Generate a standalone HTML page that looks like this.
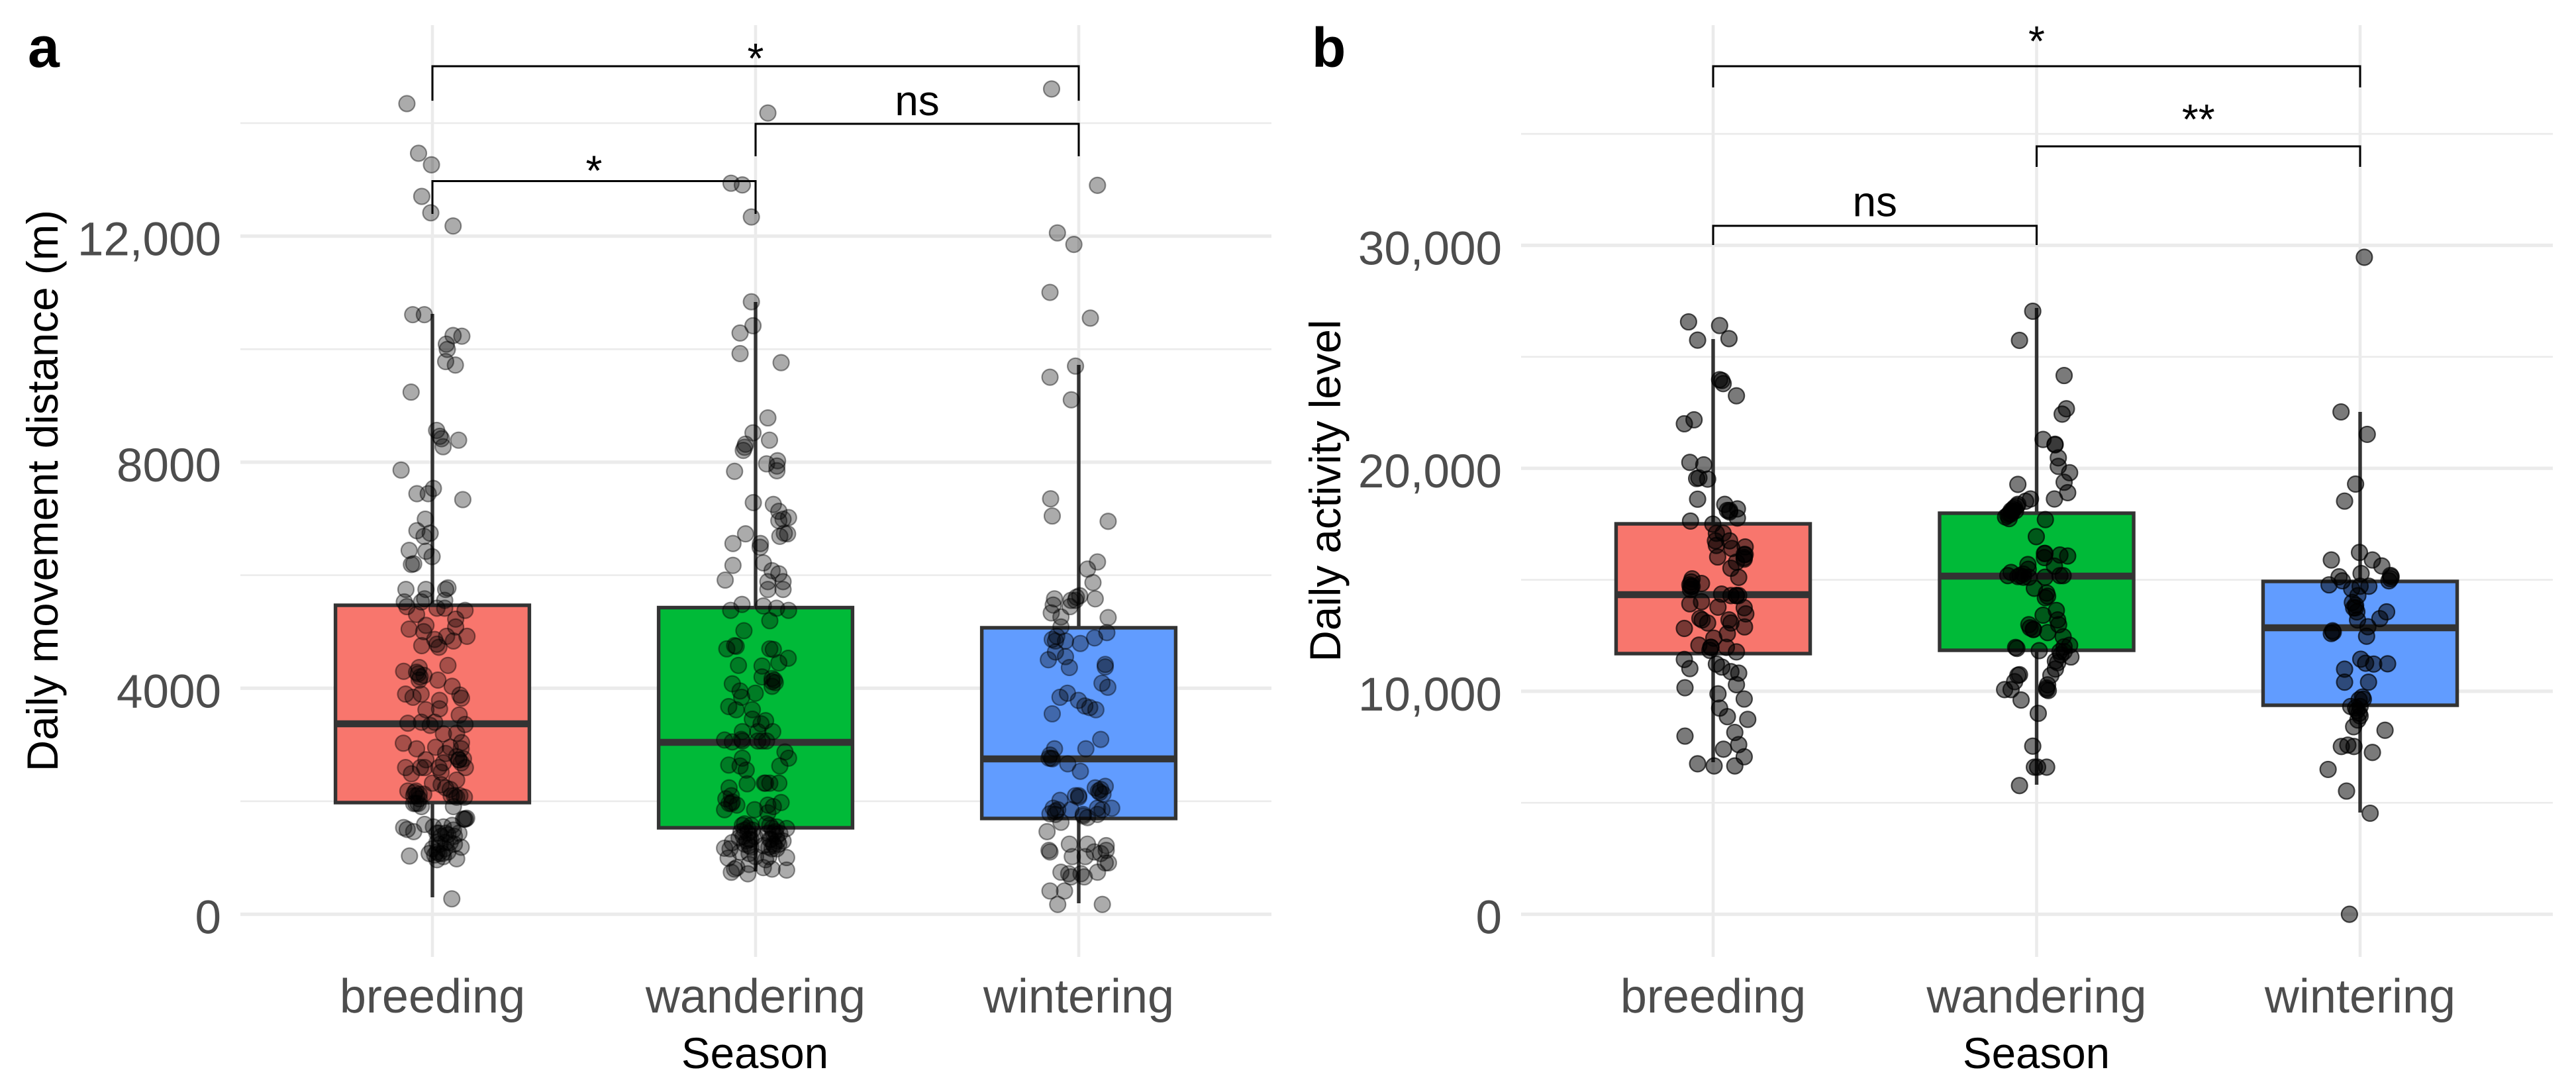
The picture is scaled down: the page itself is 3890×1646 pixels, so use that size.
<!DOCTYPE html>
<html lang="en">
<head>
<meta charset="utf-8">
<title>Daily movement distance and activity level by season</title>
<style>
html,body{margin:0;padding:0;background:#fff;}
svg{display:block;font-family:"Liberation Sans",Arial,sans-serif;}
</style>
</head>
<body>
<svg id="chart" xmlns="http://www.w3.org/2000/svg" width="3890" height="1646" viewBox="0 0 3890 1646">
  <rect x="0" y="0" width="3890" height="1646" fill="#fff"/>
  <text x="42" y="101" font-size="86" font-weight="700" fill="#000">a</text>
  <text x="1981" y="101" font-size="84" font-weight="700" fill="#000">b</text>
  <text transform="translate(87,741) rotate(-90)" text-anchor="middle" font-size="65.5" fill="#000">Daily movement distance (m)</text>
  <text transform="translate(2024,741) rotate(-90)" text-anchor="middle" font-size="65.5" fill="#000">Daily activity level</text>
  <text x="1140" y="1613" text-anchor="middle" font-size="65.5" fill="#000">Season</text>
  <text x="3075" y="1613" text-anchor="middle" font-size="65.5" fill="#000">Season</text>
  <g id="panel-a"></g>
  <g id="panel-b"></g>
</svg>
<script>
const seasons = ['breeding', 'wandering', 'wintering'];
const fillColors = ['#F8766D', '#00BA38', '#619CFF'];

const aMajorTicks = [0, 4000, 8000, 12000];
const aTickLabels = ['0', '4000', '8000', '12,000'];
const aMinorTicks = [2000, 6000, 10000, 14000];
const aQ1 = [1976, 1530, 1695];
const aMedian = [3370, 3042, 2749];
const aQ3 = [5468, 5427, 5070];
const aWhiskerLow = [300, 757, 195];
const aWhiskerHigh = [10625, 10835, 9722];
const aBracketFrom = [0, 1, 0];
const aBracketTo = [2, 2, 1];
const aBracketLevel = [15007, 13988, 12974];
const aBracketTip = [14397, 13414, 12394];
const aBracketLabels = ['*', 'ns', '*'];
const aBracketLabelOffset = [10, -13, 6];

const bMajorTicks = [0, 10000, 20000, 30000];
const bTickLabels = ['0', '10,000', '20,000', '30,000'];
const bMinorTicks = [5000, 15000, 25000, 35000];
const bQ1 = [11690, 11838, 9373];
const bMedian = [14333, 15164, 12848];
const bQ3 = [17510, 17987, 14927];
const bWhiskerLow = [6819, 5809, 4562];
const bWhiskerHigh = [25797, 27193, 22530];
const bBracketFrom = [0, 1, 0];
const bBracketTo = [2, 2, 1];
const bBracketLevel = [38034, 34441, 30877];
const bBracketTip = [37084, 33520, 30016];
const bBracketLabels = ['*', '**', 'ns'];
const bBracketLabelOffset = [-16, -19, -14.5];

/* each point: [horizontal jitter in category units, observed value] */
const aBreedingPoints = [[-.079,14346],[-.043,13467],[-.003,13263],[-.033,12704],[-.005,12414],[.064,12180],[-.061,10611],[-.025,10611],[.091,10230],[.064,10242],[.043,10089],[.046,9996],[.041,9781],[.071,9719],[-.066,9240],[.013,8563],[.023,8458],[.028,8415],[.081,8390],[.033,8274],[-.097,7861],[-.048,7443],[.003,7535],[-.013,7443],[.094,7338],
[-.022,6992],[-.048,6788],[-.007,6744],[-.026,6688],[-.072,6439],[-.020,6423],[-.001,6329],[-.058,6202],[-.065,6190],[-.082,5748],[-.020,5748],[.048,5776],[.041,5748],[-.087,5527],[-.024,5582],[-.034,5527],[.038,5555],
[-.079,5444],[-.049,5306],[.014,5416],[.038,5416],[.101,5378],[.072,5223],[.072,5084],[-.072,5046],[-.020,5112],[-.027,5001],[.107,4919],[.044,4919],[.007,4863],[.065,4836],[-.033,4753],[.014,4780],[.020,4725],[.048,4404],[-.089,4299],[-.041,4366],[-.049,4283],[-.026,4227],[-.041,4144],[.017,4144],[.061,4034],[.085,3879],[.090,3824],[-.083,3896],[-.060,3840],[-.035,3896],[.022,3785],[.022,3636],[-.020,3619],[.083,3525],[-.034,3398],[-.076,3381],[.007,3398],[-.007,3343],[.101,3359],[.034,3193],[.075,3204],[-.090,3027],[-.049,2928],[.010,2955],[.055,2955],[.090,3038],[.089,2928],[.041,2845],[-.020,2734],[.082,2734],[.096,2751],[-.083,2596],[-.037,2596],[-.024,2596],[.020,2596],[.034,2679],[.102,2596],[-.065,2486],[.027,2513],[.075,2375],[0,2320],[.027,2292],[.041,2237],[-.076,2181],[-.051,2181],[-.041,2126],[-.058,2098],[-.027,2126],[.058,2098],[.075,2071],[.099,2071],
[-.051,1960],[.065,1905],[.099,1684],[.102,1684],[-.024,1590],[-.089,1534],[-.078,1501],[-.058,1462],[.003,1545],[.034,1545],[.061,1573],[.020,1435],[.048,1407],[.068,1380],[.014,1269],[.041,1269],[.068,1241],[.089,1186],[-.010,1075],[.020,1075],[.034,1020],[.007,1048],[.075,981],[-.071,1031],[.014,965],[.060,273],
[-.048,2098],[-.055,2154],[-.041,2043],[-.044,1960],[-.058,1960],[-.034,1905],[.014,1435],[.027,1380],[.041,1435],[.024,1241],[.038,1158],[.055,1269],[.014,1103],[.031,1075],[.048,1103],[0,1158],[.065,1490],[.082,1435],[.096,1684],[.106,1700],[.068,2098],[.085,2098],[.055,2209],[-.038,4200],[-.044,4255],[.082,2734],[.075,2790],[.089,2679]];

const aWanderingPoints = [[.038,14180],[-.076,12937],[-.041,12907],[-.013,12340],[-.013,10839],[-.008,10415],[-.048,10286],[-.048,9922],[.079,9762],[.038,8784],[-.008,8520],[.043,8390],[-.031,8319],[-.034,8264],[-.038,8209],[.034,7971],[.068,8026],[.066,7932],[.066,7849],[-.065,7838],[-.007,7285],[.055,7252],[.072,7131],[.072,6965],[.102,7020],[.085,6992],[.089,6743],[.075,6688],[.099,6732],[-.031,6732],[-.070,6561],[.015,6561],[.014,6495],[.024,6218],[-.070,6174],[.051,6080],[.072,6025],[-.094,5914],[.038,5886],[.085,5886],[.038,5748],[.085,5748],
[-.042,5483],[.024,5455],[-.077,5378],[.065,5416],[.102,5378],[.044,5195],[-.036,5018],[-.089,4697],[-.065,4753],[-.060,4742],[.044,4697],[.055,4686],[.101,4531],[-.053,4404],[.020,4393],[.072,4449],[.051,4172],[.020,4200],[.061,4100],[.051,4034],[-.072,4078],[-.048,3951],[-.043,3840],[-.001,3912],[-.083,3675],[-.060,3619],[-.010,3619],[-.010,3453],[.031,3426],[.017,3370],[.053,3232],[-.041,3232],[.007,3232],[-.096,3083],[-.072,3050],[-.041,3066],[.007,3066],[.034,3066],[.091,2872],[.102,2762],[-.041,2762],[-.083,2640],[-.048,2624],[-.029,2552],[.075,2624],[-.026,2309],[.027,2320],[.044,2320],[.072,2320],[-.082,2237],[-.075,2098],[-.092,2043],[-.075,1960],[-.058,1932],[-.096,1850],[-.003,1850],[.038,1932],[.079,1977],[.055,1905],[.038,1795],
[-.041,1573],[-.014,1573],[.044,1573],[.065,1545],[.096,1518],[-.045,1462],[-.024,1435],[.055,1435],[.075,1435],[-.051,1352],[-.020,1324],[.048,1324],[.068,1297],[.085,1297],[-.072,1269],[-.034,1241],[.058,1214],[-.096,1169],[-.014,1186],[.065,1158],[.024,1214],[-.079,1158],[-.048,1103],[-.020,1075],[.041,1020],[-.085,993],[.096,1003],[0,1020],[.031,965],[-.020,882],[-.058,826],[-.075,743],[-.024,716],[.024,826],[.051,799],[.096,782],[-.065,799],
[-.034,1600],[-.024,1518],[-.010,1490],[-.038,1379],[-.027,1297],[-.014,1324],[-.034,1490],[-.020,1214],[-.003,1379],[.034,1600],[.051,1518],[.061,1462],[.038,1435],[.044,1324],[.065,1380],[.055,1241],[.041,1186],[.072,1241],[.051,1158],[-.082,1960],[-.072,1988],[-.044,3094],[.020,3066],[.031,2320],[.051,4117],[.058,4144]];

const aWinteringPoints = [[-.084,14605],[.058,12900],[-.066,12058],[-.015,11854],[-.089,11005],[.036,10550],[-.010,9701],[-.089,9504],[-.023,9104],[-.087,7352],[-.082,7048],[.091,6954],[.058,6235],[.027,6108],[.044,5870],[-.075,5582],[-.079,5472],[-.007,5610],[.003,5637],[-.024,5555],[-.010,5555],[.051,5582],[-.027,5444],[-.085,5333],[-.055,5261],[.091,5250],[-.055,5084],[-.082,4863],[-.068,4919],[-.072,4836],[-.041,4836],[.005,4792],[.049,4891],[.087,4985],[-.072,4642],[-.094,4504],[-.041,4559],[-.029,4366],[.082,4421],[.082,4377],[.072,4089],[.090,4017],[-.058,3840],[-.035,3912],[-.001,3785],[.019,3685],[.034,3658],[.053,3619],[-.082,3547],[.068,3094],[.022,2928],[-.075,2928],[-.092,2762],[-.082,2751],[-.034,2662],[.005,2530],[.082,2264],[.051,2237],[.065,2154],[0,2071],[-.010,2098],[-.058,2015],[.075,2126],[.061,2181],[.102,1877],[.072,1850],[.058,1877],[-.065,1850],[-.089,1778],[-.072,1767],[-.024,1850],[.014,1739],[.058,1767],[-.055,1628],[.027,1711],[-.098,1462],[-.029,1241],[.027,1241],[.085,1214],[-.089,1103],[-.092,1131],[.048,1103],[.068,1075],[.085,1131],[-.020,1020],[.020,1020],[.082,909],[.092,909],[-.055,744],[-.031,717],[.007,717],[.058,744],[-.024,661],[.017,661],[-.089,412],[-.044,412],[-.065,174],[.073,174],
[-.085,2762],[-.089,2817],[-.072,1822],[-.079,1877],[.014,1767],[.068,2209],[0,2098]];

const bBreedingPoints = [[-.076,26568],[.020,26404],[-.048,25749],[.049,25817],[.020,23976],[.027,23935],[.031,23799],[.072,23253],[-.059,22176],[-.089,21998],[-.072,20266],[-.029,20157],[-.044,19570],[-.051,19543],[-.017,19516],[-.048,18615],[.036,18384],[.075,18179],[.044,18111],[.051,18043],[.075,17770],[-.070,17633],[-.001,17497],[.010,17088],[.031,17088],[.007,16747],[.051,16747],[.099,16474],[.010,16542],[.058,16406],[.099,16133],[.014,16024],[.096,15928],[.072,15792],[.055,15519],[.079,15110],[-.065,15042],[-.036,14837],[-.068,14701],[-.070,14565],[.026,14360],[.072,14292],[.055,14292],[.079,14292],[-.072,13923],[-.036,14019],[.015,13773],[.096,13746],[.101,13473],[-.041,13269],[-.034,13200],[.049,13200],[-.017,13064],[.055,13064],[.097,12887],[-.089,12819],[.044,12586],[.002,12382],[-.044,12068],[-.007,11972],[.041,11972],[.072,11768],[-.010,11836],[-.089,11427],[-.072,11018],[.010,11223],[.027,11087],[.055,10881],[.079,10813],[.072,10295],[.015,9886],[-.087,10159],[.096,9654],[.020,9245],[.044,8863],[.107,8740],[-.087,7990],[.067,8154],[.079,7608],[.032,7403],[.096,7063],[-.048,6749],[.003,6653],[.067,6653],
[-.068,14905],[-.065,14701],[-.072,14769],[.096,16133],[.096,15997],[-.007,11972],[.051,18111],[.072,14292]];

const bWanderingPoints = [[-.012,27045],[-.053,25739],[.085,24162],[.092,22671],[.079,22430],[.020,21294],[.057,21081],[.057,21053],[.067,20470],[.067,20087],[.102,19803],[.085,19377],[-.058,19278],[.096,18908],[-.019,18624],[.055,18624],[-.034,18525],[-.058,18383],[-.068,18241],[-.075,18071],[-.089,17886],[-.079,17957],[-.065,18099],[-.085,17744],[.027,17701],[-.001,16935],[.026,16182],[.024,15997],[.072,16111],[.096,16068],[-.027,15685],[.055,15614],[-.079,15330],[-.026,15472],[-.089,15188],[-.058,15145],[-.041,15117],[-.024,15117],[.026,15117],[.072,15188],[.082,15188],[-.007,14620],[.031,14407],[.034,14265],[.027,14195],[.061,13626],[.020,13413],[.065,13200],[.068,12987],[-.024,12987],[-.010,12774],[.034,12632],[.082,12447],[-.065,11965],[-.061,11923],[.008,11823],[.102,12064],[.085,11780],[.106,11539],[.075,11638],[.065,11283],[.058,10999],[.044,10715],[-.058,10715],[-.053,10743],[.034,10289],[-.068,10431],[-.099,10076],[.031,10147],[.036,10033],[-.079,10076],[-.048,9607],[.005,9011],[-.012,7540],[-.007,6597],[.003,6597],[.031,6597],[-.053,5773],
[-.079,18099],[-.072,18170],[-.085,17957],[-.096,17815],[-.061,18312],[-.041,15259],[-.051,15188],[-.010,12774],[-.020,12845],[.024,16182],[.085,11993],[.072,11780],[.058,11354],[.031,10076]];

const bWinteringPoints = [[.013,29465],[-.059,22529],[.022,21523],[-.014,19293],[-.048,18530],[-.002,16227],[-.089,15888],[.038,15888],[.067,15621],[-.065,15136],[.003,15282],[.096,15136],[-.096,14773],[-.055,14954],[.089,14954],[-.026,14591],[0,14712],[.027,14712],[-.007,14288],[-.024,13985],[-.014,13742],[-.010,13561],[.082,13561],[.061,13258],[-.008,13197],[-.085,12712],[-.089,12591],[.024,12894],[.020,12470],[.002,11440],[.017,11258],[.042,11221],[.085,11234],[-.048,10991],[.026,10409],[-.048,10409],[.010,9646],[-.029,9319],[0,9319],[-.003,9015],[-.007,8712],[-.020,8410],[.077,8252],[-.058,7525],[-.038,7586],[-.019,7525],[.038,7258],[-.099,6495],[-.042,5525],[.031,4531],[-.033,0],
[-.003,9622],[-.014,9258],[0,8894],[-.010,9137],[.007,9743],[-.014,13864],[-.020,13742],[.094,15051],[.094,15197],[-.083,12652]];

const SVG_NS = 'http://www.w3.org/2000/svg';

function make(tag, attrs, parent) {
  const el = document.createElementNS(SVG_NS, tag);
  for (const k in attrs) el.setAttribute(k, attrs[k]);
  parent.appendChild(el);
  return el;
}

function drawPanel(cfg) {
  const root = document.getElementById(cfg.id);
  const xScale = function (c) { return cfg.x0 + c * cfg.step; };
  const yScale = function (v) { return cfg.y0 - v * cfg.pxPerUnit; };
  const halfBox = 0.3 * cfg.step;

  cfg.minorTicks.forEach(function (t) {
    const el = make('line', {x1: cfg.left, x2: cfg.right, y1: yScale(t), y2: yScale(t), stroke: '#ebebeb', 'stroke-width': 2.6}, root);
    
    
  });
  cfg.majorTicks.forEach(function (t, i) {
    const line = make('line', {x1: cfg.left, x2: cfg.right, y1: yScale(t), y2: yScale(t), stroke: '#ebebeb', 'stroke-width': 5.2}, root);
    
    
    const label = make('text', {x: cfg.tickRight, y: yScale(t) + 29, 'text-anchor': 'end', 'font-size': 71, fill: '#4d4d4d'}, root);
    label.textContent = cfg.tickLabels[i];
    
    
  });

  seasons.forEach(function (s, c) {
    const gx = make('line', {x1: xScale(c), x2: xScale(c), y1: 38, y2: 1445, stroke: '#ebebeb', 'stroke-width': 4.6}, root);
    
    
    const label = make('text', {x: xScale(c), y: 1529, 'text-anchor': 'middle', 'font-size': 72, fill: '#4d4d4d'}, root);
    label.textContent = s;
    
    
  });

  seasons.forEach(function (s, c) {
    const whisker = make('line', {x1: xScale(c), x2: xScale(c), y1: yScale(cfg.whiskerHigh[c]), y2: yScale(cfg.whiskerLow[c]), stroke: '#333', 'stroke-width': 5.4}, root);
    
    
    const box = make('rect', {x: xScale(c) - halfBox, y: yScale(cfg.q3[c]), width: 2 * halfBox, height: yScale(cfg.q1[c]) - yScale(cfg.q3[c]), fill: fillColors[c], stroke: '#333', 'stroke-width': 5.4}, root);
    
    
    const med = make('line', {x1: xScale(c) - halfBox, x2: xScale(c) + halfBox, y1: yScale(cfg.median[c]), y2: yScale(cfg.median[c]), stroke: '#333', 'stroke-width': 10.5}, root);
    
    
  });

  seasons.forEach(function (s, c) {
    cfg.points[c].forEach(function (p) {
      const dot = make('circle', {cx: xScale(c + p[0]), cy: yScale(p[1]), r: 12, fill: '#000', 'fill-opacity': cfg.fillAlpha, stroke: '#000', 'stroke-opacity': cfg.strokeAlpha, 'stroke-width': 2.2}, root);
      
      
    });
  });

  cfg.bracketLevel.forEach(function (level, i) {
    const xa = xScale(cfg.bracketFrom[i]);
    const xb = xScale(cfg.bracketTo[i]);
    const yl = yScale(level);
    const yt = yScale(cfg.bracketTip[i]);
    const path = make('path', {d: 'M' + xa + ' ' + yt + 'V' + yl + 'H' + xb + 'V' + yt, fill: 'none', stroke: '#000', 'stroke-width': 3}, root);
    
    
    const txt = make('text', {x: (xa + xb) / 2, y: yl + cfg.bracketLabelOffset[i], 'text-anchor': 'middle', 'font-size': 64, fill: '#000'}, root);
    txt.textContent = cfg.bracketLabels[i];
    
    
  });
}

drawPanel({
  id: 'panel-a', x0: 653, step: 488, y0: 1380.6, pxPerUnit: 0.08533, left: 363, right: 1920, tickRight: 334,
  majorTicks: aMajorTicks, minorTicks: aMinorTicks, tickLabels: aTickLabels,
  q1: aQ1, median: aMedian, q3: aQ3, whiskerLow: aWhiskerLow, whiskerHigh: aWhiskerHigh,
  points: [aBreedingPoints, aWanderingPoints, aWinteringPoints], fillAlpha: 0.33, strokeAlpha: 0.42,
  bracketFrom: aBracketFrom, bracketTo: aBracketTo, bracketLevel: aBracketLevel, bracketTip: aBracketTip,
  bracketLabels: aBracketLabels, bracketLabelOffset: aBracketLabelOffset
});

drawPanel({
  id: 'panel-b', x0: 2587, step: 488.5, y0: 1380.6, pxPerUnit: 0.03367, left: 2297, right: 3855, tickRight: 2268,
  majorTicks: bMajorTicks, minorTicks: bMinorTicks, tickLabels: bTickLabels,
  q1: bQ1, median: bMedian, q3: bQ3, whiskerLow: bWhiskerLow, whiskerHigh: bWhiskerHigh,
  points: [bBreedingPoints, bWanderingPoints, bWinteringPoints], fillAlpha: 0.52, strokeAlpha: 0.68,
  bracketFrom: bBracketFrom, bracketTo: bBracketTo, bracketLevel: bBracketLevel, bracketTip: bBracketTip,
  bracketLabels: bBracketLabels, bracketLabelOffset: bBracketLabelOffset
});
</script>
</body>
</html>
